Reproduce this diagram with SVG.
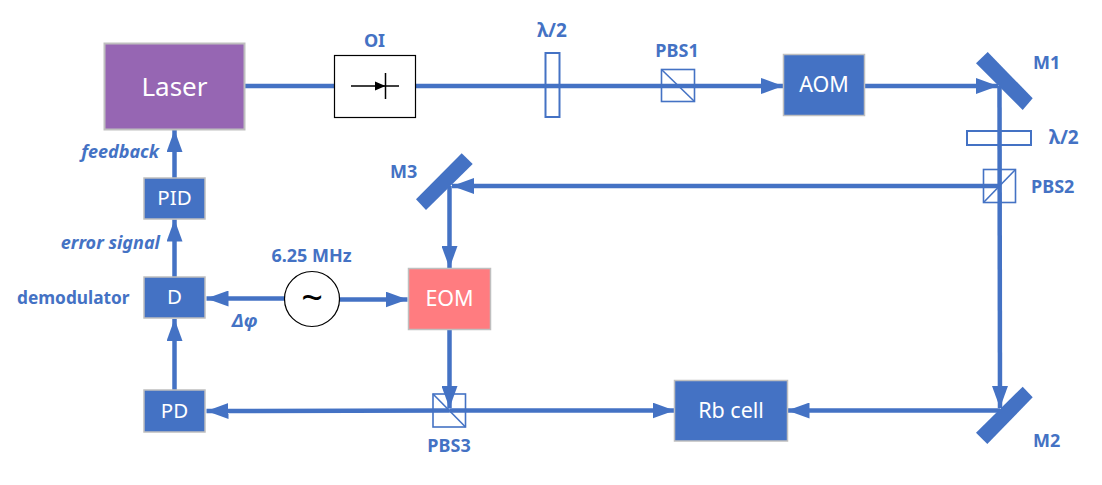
<svg xmlns="http://www.w3.org/2000/svg" width="1102" height="485" viewBox="0 0 1102 485">
<style>
text{font-family:"Noto Sans","Open Sans","Liberation Sans",sans-serif}
.box{fill:#4472c4;stroke:#bfbfbf;stroke-width:1.5}
.w{fill:#fff;text-anchor:middle;font-size:21.5px}
.s{font-size:20.5px}
.l{fill:#4472c4;font-size:18px;font-weight:700}
.i{font-style:italic}
.m{text-anchor:middle}
.e{text-anchor:end}
.b{fill:none;stroke:#4472c4;stroke-width:4.5}
.o{fill:#fff;stroke:#4472c4;stroke-width:2}
.n{fill:none;stroke:#4472c4;stroke-width:1.6}
.k{fill:none;stroke:#000;stroke-width:1.5}
.mir{fill:#4472c4}
</style>
<defs>
<marker id="a" markerUnits="userSpaceOnUse" markerWidth="22" markerHeight="16" refX="22" refY="8" orient="auto"><path d="M0 0L22 8L0 16Z" fill="#4472c4"/></marker>
</defs>
<g id="optics-under">
<rect id="wp1" class="o" x="545.5" y="53" width="14" height="64"/>
<rect id="wp2" class="o" x="967" y="131" width="64" height="14"/>
</g>
<g id="connectors">
<path class="b" d="M245 86H334"/>
<path class="b" d="M415 86H783" marker-end="url(#a)"/>
<path class="b" d="M864 86H998" marker-end="url(#a)"/>
<path class="b" d="M999.5 86L1000 408" marker-end="url(#a)"/>
<path class="b" d="M999 186H452" marker-end="url(#a)"/>
<path class="b" d="M449.5 186V268" marker-end="url(#a)"/>
<path class="b" d="M449.5 329V408" marker-end="url(#a)"/>
<path class="b" d="M449.500 410.500L206.500 411" marker-end="url(#a)"/>
<path class="b" d="M449.500 410.500H674.500" marker-end="url(#a)"/>
<path class="b" d="M1000 410.500H787.500" marker-end="url(#a)"/>
<path class="b" d="M286 298.500H206.500" marker-end="url(#a)"/>
<path class="b" d="M339 299.500H407.500" marker-end="url(#a)"/>
<path class="b" d="M174.500 390V319" marker-end="url(#a)"/>
<path class="b" d="M174.500 277V219.500" marker-end="url(#a)"/>
<path class="b" d="M174.500 178V130" marker-end="url(#a)"/>
</g>
<g id="laser"><rect x="104.500" y="43.500" width="140" height="86" fill="#9666b3" stroke="#bfbfbf" stroke-width="2"/><text class="w" x="174.500" y="96" style="font-size:26px">Laser</text></g>
<g id="oi"><rect x="334.500" y="55.500" width="81" height="62" fill="#fff" stroke="#000" stroke-width="1.200"/><path class="k" d="M351 86H399M385.500 73V99"/><path d="M375 81.500L385.500 86L375 90.500Z" fill="#000"/><text class="l m" x="374.500" y="46.500">OI</text></g>
<g id="wp1-label"><text class="l m" x="552" y="37" style="font-size:19px">λ/2</text></g>
<g id="pbs1"><rect class="n" x="661.500" y="69.500" width="33" height="32"/><path class="n" d="M661.500 69.500L694.500 101.500"/><text class="l m" x="677" y="57">PBS1</text></g>
<g id="aom"><rect class="box" x="783.500" y="54.500" width="81" height="61"/><text class="w" x="824" y="92">AOM</text></g>
<g id="m1"><polygon class="mir" points="987.700,52 1032.700,98.300 1022.700,110 976,63.300"/><text class="l" x="1033" y="69">M1</text></g>
<g id="wp2-label"><text class="l" x="1049" y="144" style="font-size:19px">λ/2</text></g>
<g id="pbs2"><rect class="n" x="983.500" y="169.500" width="32" height="33"/><path class="n" d="M983.500 202.500L1015.500 169.500"/><text class="l" x="1031" y="192.500">PBS2</text></g>
<g id="m3"><polygon class="mir" points="461.700,153.300 472.700,164 426,210 416,199.300"/><text class="l" x="390" y="178">M3</text></g>
<g id="eom"><rect x="408.500" y="268.500" width="82" height="61" fill="#ff7c80" stroke="#bfbfbf" stroke-width="1.500"/><text class="w" x="449.500" y="306">EOM</text></g>
<g id="pbs3"><rect class="n" x="433" y="394" width="32.500" height="33"/><path class="n" d="M433 394L465.500 427"/><text class="l m" x="449" y="452">PBS3</text></g>
<g id="rb"><rect class="box" x="674.500" y="380.500" width="113" height="60.500"/><text class="w" x="731" y="418">Rb cell</text></g>
<g id="m2"><polygon class="mir" points="1022.700,386.700 1032.700,397.300 987.300,444 976,432.700"/><text class="l" x="1033" y="447">M2</text></g>
<g id="pd"><rect class="box" x="144" y="390" width="61" height="42"/><text class="w s" x="174.500" y="418">PD</text></g>
<g id="d"><rect class="box" x="144" y="277" width="61" height="41"/><text class="w s" x="174.500" y="304">D</text></g>
<g id="pid"><rect class="box" x="144" y="178" width="61" height="41"/><text class="w s" x="174.500" y="205">PID</text></g>
<g id="osc"><circle cx="312" cy="299" r="27.500" fill="#fff" stroke="#000" stroke-width="1.200"/><text x="312" y="311" text-anchor="middle" font-size="38" fill="#000">~</text><text class="l m" x="311.500" y="262">6.25 MHz</text></g>
<g id="labels">
<text class="l i e" x="159" y="158">feedback</text>
<text class="l i e" x="160" y="249">error signal</text>
<text class="l" x="17" y="304" style="font-size:17.300px">demodulator</text>
<text class="l i" x="232" y="327">Δφ</text>
</g>
</svg>
